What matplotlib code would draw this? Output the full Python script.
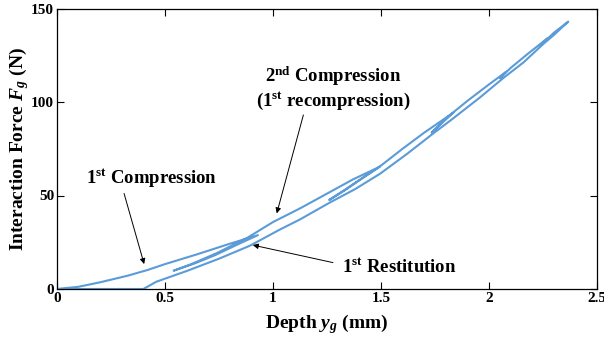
import matplotlib
matplotlib.use("Agg")
import matplotlib.pyplot as plt
import numpy as np

# depth (mm) / force (N), in drawing order
comp1_y = [0.0, 0.1, 0.2, 0.33, 0.42, 0.5, 0.65, 0.8, 0.93]
comp1_f = [0.0, 1.2, 3.6, 7.2, 10.2, 13.3, 18.6, 24.2, 28.8]

rest1_y = [0.83, 0.73, 0.64, 0.54]
rest1_f = [23.5, 18.0, 13.8, 9.8]

recomp1_y = [0.62, 0.74, 0.88, 1.0, 1.125, 1.25, 1.37, 1.495]
recomp1_f = [13.2, 19.2, 27.3, 35.8, 43.1, 51.0, 58.6, 65.4]

rest2_y = [1.42, 1.34, 1.26]
rest2_f = [59.8, 53.6, 47.6]

recomp2_y = [1.33, 1.41, 1.5, 1.6, 1.7, 1.835]
recomp2_f = [52.6, 59.0, 66.0, 75.0, 83.6, 94.3]

rest3_y = [1.79, 1.735]
rest3_f = [89.6, 83.6]

recomp3_y = [1.8, 1.9, 2.0, 2.08]
recomp3_f = [91.2, 100.6, 109.4, 116.2]

rest4_y = [2.051]
rest4_f = [112.8]

recomp4_y = [2.1, 2.18, 2.27]
recomp4_f = [118.2, 125.8, 134.0]

rest5_y = [2.244]
rest5_f = [130.8]

recomp5_y = [2.3, 2.367]
recomp5_f = [137.0, 143.0]

final_y = [2.3, 2.251, 2.16, 2.066, 1.96, 1.827, 1.742, 1.62, 1.495, 1.38, 1.264,
           1.125, 1.032, 0.894, 0.75, 0.6, 0.46, 0.4, 0.0]
final_f = [135.8, 131.0, 121.2, 112.8, 102.6, 90.6, 83.2, 72.2, 61.6, 53.4, 46.3,
           37.2, 31.8, 23.2, 16.2, 9.6, 3.9, 0.0, 0.0]

depth = np.concatenate([comp1_y, rest1_y, recomp1_y, rest2_y, recomp2_y, rest3_y,
                        recomp3_y, rest4_y, recomp4_y, rest5_y, recomp5_y, final_y])
force = np.concatenate([comp1_f, rest1_f, recomp1_f, rest2_f, recomp2_f, rest3_f,
                        recomp3_f, rest4_f, recomp4_f, rest5_f, recomp5_f, final_f])

xticks = [0, 0.5, 1, 1.5, 2, 2.5]
xticklabels = ["0", "0.5", "1", "1.5", "2", "2.5"]
yticks = [0, 50, 100, 150]

plt.rcParams['font.family'] = 'Liberation Serif'
plt.rcParams['font.weight'] = 'bold'
plt.rcParams['mathtext.fontset'] = 'custom'
plt.rcParams['mathtext.rm'] = 'Liberation Serif:bold'
plt.rcParams['mathtext.it'] = 'Liberation Serif:italic:bold'
plt.rcParams['mathtext.bf'] = 'Liberation Serif:bold'

fig = plt.figure(figsize=(6.04, 3.43), dpi=100)
ax = fig.add_axes([57 / 604, 54 / 343, 540 / 604, 280.5 / 343])

ax.plot(depth, force, color='#5b9bd8', lw=1.5)

ax.set_xlim(0, 2.5)
ax.set_ylim(0, 150)
ax.set_xticks(xticks)
ax.set_xticklabels(xticklabels)
ax.set_yticks(yticks)
ax.tick_params(direction='in', top=True, right=True, length=5, width=0.8,
               labelsize=11, pad=2)
for lab in ax.get_xticklabels() + ax.get_yticklabels():
    lab.set_fontweight('bold')
for sp in ax.spines.values():
    sp.set_linewidth(0.9)

ax.set_xlabel(r'Depth $y_g$ (mm)', fontsize=14, fontweight='bold', labelpad=5)
ax.set_ylabel(r'Interaction Force $F_g$ (N)', fontsize=14, fontweight='bold', labelpad=0)

arrow = dict(arrowstyle='-|>', color='black', lw=0.7, mutation_scale=8)
ax.annotate('', xy=(0.407, 11.9), xytext=(0.307, 52.5), arrowprops=arrow)
ax.text(0.44, 59.5, r'1$^{\mathrm{st}}$ Compression', fontsize=13.5,
        fontweight='bold', ha='center', va='center')

ax.annotate('', xy=(1.014, 39.0), xytext=(1.144, 94.5), arrowprops=arrow)
ax.text(1.28, 114.0, r'2$^{\mathrm{nd}}$ Compression', fontsize=13.5,
        fontweight='bold', ha='center', va='center')
ax.text(1.28, 100.5, r'(1$^{\mathrm{st}}$ recompression)', fontsize=13.5,
        fontweight='bold', ha='center', va='center')

ax.annotate('', xy=(0.894, 23.8), xytext=(1.29, 13.8), arrowprops=arrow)
ax.text(1.32, 11.8, r'1$^{\mathrm{st}}$ Restitution', fontsize=13.5,
        fontweight='bold', ha='left', va='center')

fig.savefig('out.png', dpi=100)
